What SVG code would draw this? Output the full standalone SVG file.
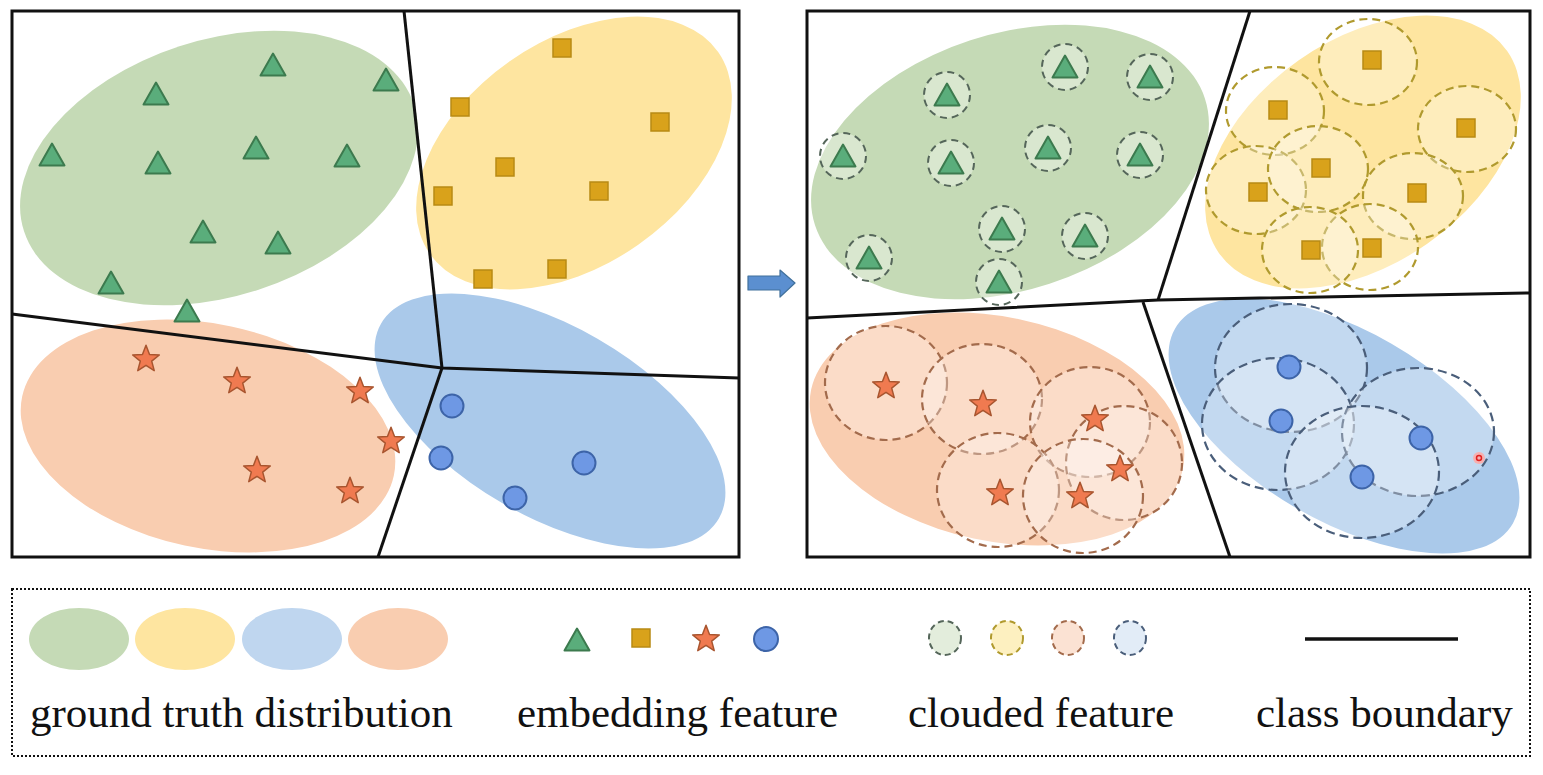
<svg xmlns="http://www.w3.org/2000/svg" xmlns:xlink="http://www.w3.org/1999/xlink" width="1543" height="775" viewBox="0 0 1543 775">
<style>
.panel{fill:none;stroke:#111;stroke-width:3}
.bnd{fill:none;stroke:#111;stroke-width:3;stroke-linejoin:round}
.gE{fill:#c5dab6}.yE{fill:#fee5a0}.oE{fill:#f9cdb0}.bE{fill:#aac9ea}
.tri{fill:#5aad7b;stroke:#3c7a4e;stroke-width:2;stroke-linejoin:round}
.sq{fill:#d9a21b;stroke:#b88a14;stroke-width:1.5}
.star{fill:#f07a50;stroke:#a8552f;stroke-width:1.5;stroke-linejoin:round}
.dot{fill:#6e98e4;stroke:#3d64a8;stroke-width:2}
.cg{fill:#fff;fill-opacity:0.35;stroke:#55665a;stroke-width:2;stroke-dasharray:7 5}
.cy{fill:#fff;fill-opacity:0.3;stroke:#b09a2e;stroke-width:2.2;stroke-dasharray:8 5}
.co{fill:#fff;fill-opacity:0.3;stroke:#a36b4c;stroke-width:2.2;stroke-dasharray:8 5}
.cb{fill:#fff;fill-opacity:0.3;stroke:#4a5e7a;stroke-width:2.2;stroke-dasharray:9 5}
.lbl{font-family:"Liberation Serif","Times New Roman",serif;font-size:43px;fill:#111}
</style>
<defs>
<polygon id="T" points="0,-11.5 12.5,10.5 -12.5,10.5"/>
<rect id="S" x="-9" y="-9" width="18" height="18"/>
<polygon id="St" points="0,-14 3.53,-4.85 13.32,-4.33 5.71,1.85 8.23,11.33 0,6 -8.23,11.33 -5.71,1.85 -13.32,-4.33 -3.53,-4.85" transform="translate(0,1.3)"/>
</defs>
<rect width="1543" height="775" fill="#fff"/>

<!-- LEFT PANEL -->
<g id="left-panel">
<rect x="12" y="11" width="727" height="546" fill="#fff"/>
<g id="left-regions">
<ellipse class="gE" cx="219" cy="168" rx="205" ry="128" transform="rotate(-18 219 168)"/>
<ellipse class="yE" cx="574" cy="153" rx="176" ry="112" transform="rotate(-35 574 153)"/>
<ellipse class="oE" cx="208" cy="436" rx="190" ry="112" transform="rotate(12 208 436)"/>
<ellipse class="bE" cx="550" cy="421" rx="195" ry="95" transform="rotate(30 550 421)"/>
</g>
<g id="left-boundaries">
<polyline class="bnd" points="404,11 442,368"/>
<polyline class="bnd" points="12,314 442,368 739,378"/>
<polyline class="bnd" points="442,368 378,557"/>
</g>
<g id="left-triangles">
<use href="#T" class="tri" x="273" y="65"/>
<use href="#T" class="tri" x="386" y="80"/>
<use href="#T" class="tri" x="156" y="94"/>
<use href="#T" class="tri" x="52" y="155"/>
<use href="#T" class="tri" x="158" y="163"/>
<use href="#T" class="tri" x="256" y="148"/>
<use href="#T" class="tri" x="347" y="156"/>
<use href="#T" class="tri" x="203" y="232"/>
<use href="#T" class="tri" x="278" y="243"/>
<use href="#T" class="tri" x="111" y="283"/>
<use href="#T" class="tri" x="187" y="311"/>
</g>
<g id="left-squares">
<use href="#S" class="sq" x="562" y="48"/>
<use href="#S" class="sq" x="460" y="107"/>
<use href="#S" class="sq" x="660" y="122"/>
<use href="#S" class="sq" x="505" y="167"/>
<use href="#S" class="sq" x="443" y="196"/>
<use href="#S" class="sq" x="599" y="191"/>
<use href="#S" class="sq" x="557" y="269"/>
<use href="#S" class="sq" x="483" y="279"/>
</g>
<g id="left-stars">
<use href="#St" class="star" x="146" y="358"/>
<use href="#St" class="star" x="237" y="380"/>
<use href="#St" class="star" x="360" y="390"/>
<use href="#St" class="star" x="391" y="440"/>
<use href="#St" class="star" x="257" y="469"/>
<use href="#St" class="star" x="350" y="490"/>
</g>
<g id="left-circles">
<circle class="dot" cx="452" cy="406" r="11.5"/>
<circle class="dot" cx="441" cy="458" r="11.5"/>
<circle class="dot" cx="584" cy="463" r="11.5"/>
<circle class="dot" cx="515" cy="498" r="11.5"/>
</g>
<rect class="panel" x="12" y="11" width="727" height="546"/>
</g>

<!-- RIGHT PANEL -->
<g id="right-panel">
<rect x="807" y="11" width="723" height="546" fill="#fff"/>
<g id="right-regions">
<ellipse class="gE" cx="1010" cy="162" rx="205" ry="128" transform="rotate(-18 1010 162)"/>
<ellipse class="yE" cx="1363" cy="152" rx="176" ry="112" transform="rotate(-35 1363 152)"/>
<ellipse class="oE" cx="997" cy="429" rx="190" ry="112" transform="rotate(12 997 429)"/>
<ellipse class="bE" cx="1344" cy="426" rx="195" ry="95" transform="rotate(30 1344 426)"/>
</g>
<g id="right-boundaries">
<polyline class="bnd" points="1250,11 1158,300"/>
<polyline class="bnd" points="807,318 1158,300 1530,293"/>
<polyline class="bnd" points="1143,302 1230,557"/>
</g>
<g id="right-green">
<circle class="cg" cx="1065" cy="67" r="23"/><use href="#T" class="tri" x="1065" y="67"/>
<circle class="cg" cx="1150" cy="77" r="23"/><use href="#T" class="tri" x="1150" y="77"/>
<circle class="cg" cx="947" cy="95" r="23"/><use href="#T" class="tri" x="947" y="95"/>
<circle class="cg" cx="843" cy="156" r="23"/><use href="#T" class="tri" x="843" y="156"/>
<circle class="cg" cx="951" cy="163" r="23"/><use href="#T" class="tri" x="951" y="163"/>
<circle class="cg" cx="1048" cy="148" r="23"/><use href="#T" class="tri" x="1048" y="148"/>
<circle class="cg" cx="1140" cy="155" r="23"/><use href="#T" class="tri" x="1140" y="155"/>
<circle class="cg" cx="1002" cy="229" r="23"/><use href="#T" class="tri" x="1002" y="229"/>
<circle class="cg" cx="1085" cy="236" r="23"/><use href="#T" class="tri" x="1085" y="236"/>
<circle class="cg" cx="869" cy="258" r="23"/><use href="#T" class="tri" x="869" y="258"/>
<circle class="cg" cx="999" cy="282" r="23"/><use href="#T" class="tri" x="999" y="282"/>
</g>
<g id="right-yellow">
<ellipse class="cy" cx="1368" cy="62" rx="49" ry="43"/>
<ellipse class="cy" cx="1275" cy="111" rx="49" ry="44"/>
<ellipse class="cy" cx="1467" cy="129" rx="49" ry="43"/>
<ellipse class="cy" cx="1256" cy="190" rx="50" ry="44"/>
<ellipse class="cy" cx="1318" cy="169" rx="50" ry="43"/>
<ellipse class="cy" cx="1413" cy="196" rx="50" ry="43"/>
<ellipse class="cy" cx="1370" cy="247" rx="48" ry="43"/>
<ellipse class="cy" cx="1310" cy="250" rx="48" ry="43"/>
<use href="#S" class="sq" x="1372" y="60"/>
<use href="#S" class="sq" x="1278" y="110"/>
<use href="#S" class="sq" x="1466" y="128"/>
<use href="#S" class="sq" x="1321" y="168"/>
<use href="#S" class="sq" x="1258" y="192"/>
<use href="#S" class="sq" x="1417" y="193"/>
<use href="#S" class="sq" x="1311" y="250"/>
<use href="#S" class="sq" x="1372" y="248"/>
</g>
<g id="right-orange">
<ellipse class="co" cx="886" cy="383" rx="61" ry="57"/>
<ellipse class="co" cx="982" cy="399" rx="60" ry="55"/>
<ellipse class="co" cx="1090" cy="422" rx="60" ry="55"/>
<ellipse class="co" cx="1124" cy="463" rx="58" ry="57"/>
<ellipse class="co" cx="998" cy="490" rx="61" ry="57"/>
<ellipse class="co" cx="1083" cy="496" rx="60" ry="57"/>
<use href="#St" class="star" x="886" y="385"/>
<use href="#St" class="star" x="983" y="403"/>
<use href="#St" class="star" x="1095" y="418"/>
<use href="#St" class="star" x="1120" y="468"/>
<use href="#St" class="star" x="1000" y="492"/>
<use href="#St" class="star" x="1080" y="495"/>
</g>
<g id="right-blue">
<ellipse class="cb" cx="1291" cy="368" rx="76" ry="64"/>
<ellipse class="cb" cx="1278" cy="424" rx="76" ry="66"/>
<ellipse class="cb" cx="1418" cy="432" rx="76" ry="64"/>
<ellipse class="cb" cx="1362" cy="472" rx="77" ry="66"/>
<circle class="dot" cx="1289" cy="367" r="11.5"/>
<circle class="dot" cx="1281" cy="421" r="11.5"/>
<circle class="dot" cx="1421" cy="438" r="11.5"/>
<circle class="dot" cx="1362" cy="477" r="11.5"/>
<circle cx="1479" cy="458" r="6" fill="#f6b0b0"/>
<circle cx="1479" cy="458" r="2.5" fill="none" stroke="#e02020" stroke-width="1.5"/>
</g>
<rect class="panel" x="807" y="11" width="723" height="546"/>
</g>

<!-- CONNECTOR -->
<g id="connectors">
<polygon points="748,276 780,276 780,270 795,283 780,297 780,290 748,290" fill="#5b8fd0" stroke="#41719c" stroke-width="1.2" stroke-linejoin="round"/>
</g>

<!-- LEGEND -->
<g id="legend">
<rect x="12" y="589" width="1518" height="167" fill="none" stroke="#111" stroke-width="2" stroke-dasharray="2 2"/>
<g id="legend-distribution">
<ellipse class="gE" cx="79" cy="639" rx="50" ry="31"/>
<ellipse class="yE" cx="185" cy="639" rx="50" ry="31"/>
<ellipse fill="#bfd6ef" cx="292" cy="639" rx="50" ry="31"/>
<ellipse class="oE" cx="398" cy="639" rx="50" ry="31"/>
<text class="lbl" x="30" y="727">ground truth distribution</text>
</g>
<g id="legend-embedding">
<use href="#T" class="tri" x="577" y="640"/>
<use href="#S" class="sq" x="641" y="638"/>
<use href="#St" class="star" x="706" y="638"/>
<circle class="dot" cx="766" cy="639" r="12"/>
<text class="lbl" x="517" y="727">embedding feature</text>
</g>
<g id="legend-clouded">
<ellipse cx="945" cy="638" rx="16" ry="17" fill="#e3eddc" stroke="#55665a" stroke-width="2" stroke-dasharray="6 4"/>
<ellipse cx="1007" cy="638" rx="16" ry="17" fill="#fdf0c0" stroke="#b09a2e" stroke-width="2" stroke-dasharray="6 4"/>
<ellipse cx="1068" cy="638" rx="16" ry="17" fill="#fbe2d3" stroke="#a36b4c" stroke-width="2" stroke-dasharray="6 4"/>
<ellipse cx="1130" cy="638" rx="16" ry="17" fill="#e2ecf7" stroke="#4a5e7a" stroke-width="2" stroke-dasharray="6 4"/>
<text class="lbl" x="908" y="727">clouded feature</text>
</g>
<g id="legend-boundary">
<line x1="1305" y1="639" x2="1458" y2="639" stroke="#111" stroke-width="3.5"/>
<text class="lbl" x="1256" y="727">class boundary</text>
</g>
</g>
</svg>
